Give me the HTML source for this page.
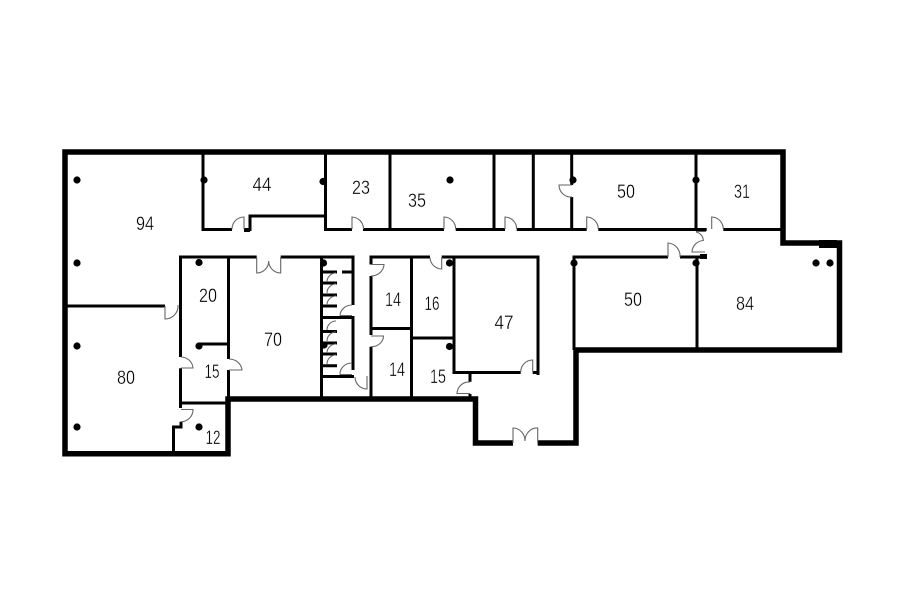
<!DOCTYPE html>
<html>
<head>
<meta charset="utf-8">
<style>
html,body{margin:0;padding:0;background:#fff;width:900px;height:604px;overflow:hidden}
svg{display:block;filter:blur(.3px)}
text{font-family:"Liberation Sans",sans-serif;font-size:19px;fill:#000;text-anchor:middle;stroke:#fff;stroke-width:.3px}
.o{fill:none;stroke:#000;stroke-width:5.5;stroke-linecap:butt;stroke-linejoin:miter}
.w{fill:none;stroke:#000;stroke-width:3;stroke-linecap:butt;stroke-linejoin:miter}
.d{fill:none;stroke:#666;stroke-width:1.1}
</style>
</head>
<body>
<svg width="900" height="604" viewBox="0 0 900 604" xmlns="http://www.w3.org/2000/svg">
<!-- outer walls -->
<path class="o" d="M513 443H475.500V399H228V453.700H65V152H783V243H839.500V350H576V443H537.700"/>
<path d="M819 240h18v8h-18z" fill="#000"/>
<!-- upper row inner walls -->
<path class="w" d="M203 152V229.500H232M244 229.500H250V216H326"/>
<path d="M244 228h6v4h-6z" fill="#000"/>
<path class="w" d="M352 229.500H325.500V152M363 229.500H444M455.700 229.500H505M516.700 229.500H586.700M598.300 229.500H706.700M711.700 229.500H711.700M723.300 229.500H781"/>
<path class="w" d="M390 152V229.500M494 152V229.500M533.300 152V229.500M571.700 152V185M571.700 197V229.500M696 152V229.500"/>
<!-- mid row -->
<path class="w" d="M256.700 257H180.500V357M280.700 257H353V305M353 316V370M180.500 368.300V408M181 421.700V427H173.500V453"/>
<path class="w" d="M67 306H165"/>
<path class="w" d="M228.500 257V359M228.500 370V398M199 344H228.500M180.500 403H228"/>
<path class="w" d="M321.500 257V398"/>
<path class="w" d="M321.500 317.500H354M321.500 376.500H354M321.500 272H337M342 272H352"/>
<path class="w" d="M321.500 283H337M321.500 295H337M321.500 306H337M321.500 331.500H337M321.500 343H337M321.500 354H337M321.500 365.700H337"/>
<path class="w" d="M371 398V346.700M371 335V276M430 257H371V264.500M371 328.500H411.500M411.500 257V398M411.500 338H454M454 257V372.500H520.700M532.700 372.500H538M441.700 257H538V375"/>
<path class="w" d="M470 373V381.700M470 394V398"/>
<path class="w" d="M668 257H574V350M680 257H706"/>
<path d="M700 254h7v5h-7z" fill="#000"/>
<path class="w" d="M697 257V350"/>
<!-- doors -->
<path class="d" d="M244 229V217A12 12 0 0 0 232 229"/>
<path class="d" d="M352 229V217A12 12 0 0 1 363.500 229"/>
<path class="d" d="M444 229V217A12 12 0 0 1 455.700 229"/>
<path class="d" d="M505 229V217A12 12 0 0 1 516.700 229"/>
<path class="d" d="M586.700 229V217A12 12 0 0 1 598.300 229"/>
<path class="d" d="M711.700 229V217A12 12 0 0 1 723.300 229"/>
<path class="d" d="M668 257V243A13 13 0 0 1 680 257"/>
<path class="d" d="M572 185H559A12 12 0 0 0 572 197"/>
<path class="d" d="M696 231.500H706M696 232A9 9 0 0 1 703.300 240.500A12 12 0 0 0 692 252H705"/>
<path class="d" d="M256.700 257V273A12 12 0 0 0 268.700 261A12 12 0 0 0 280.700 273V257"/>
<path class="d" d="M165 306V319A13 13 0 0 0 178 305"/>
<path class="d" d="M181 368H193A12 12 0 0 0 181 357"/>
<path class="d" d="M229 370H242A13 12 0 0 0 229 359"/>
<path class="d" d="M181 409.500H193A12 12 0 0 1 181 421.700"/>
<path class="d" d="M371 264.500H384A13 12 0 0 1 371 276"/>
<path class="d" d="M371 336H383.500A12 11 0 0 1 371 346.700"/>
<path class="d" d="M441.700 257V269A12 12 0 0 1 430 258"/>
<path class="d" d="M532.700 372V360A12 12 0 0 0 520.700 372"/>
<path class="d" d="M470 393.500H457A12 12 0 0 1 470 382"/>
<path class="d" d="M513 443V428A12 13 0 0 1 525 441A12 13 0 0 1 537.700 428V443"/>
<path class="d" d="M340 315.500H352M340 315.500A12 11 0 0 1 352 305"/>
<path class="d" d="M340 374.500H352M340 374.500A12 11 0 0 1 352 363"/>
<path class="d" d="M355 377A12 12 0 0 0 367 389V376"/>
<path class="d" d="M336 273A9 9 0 0 0 327 282M336 284A9 9 0 0 0 327 293M336 296A9 9 0 0 0 327 305M336 332A9 9 0 0 0 327 341M336 321A9 9 0 0 0 327 330M336 344A9 9 0 0 0 327 353M336 355A9 9 0 0 0 327 364"/>
<!-- columns -->
<g fill="#000">
<circle cx="77" cy="180" r="3.600"/><circle cx="77" cy="263" r="3.600"/>
<circle cx="204" cy="180" r="3.600"/><circle cx="199" cy="262.500" r="3.600"/>
<circle cx="77" cy="346" r="3.600"/><circle cx="77" cy="427" r="3.600"/>
<circle cx="199" cy="346" r="3.600"/><circle cx="199" cy="427" r="3.600"/>
<circle cx="323" cy="181.500" r="3.600"/><circle cx="323.500" cy="263" r="3.600"/>
<circle cx="324" cy="345" r="3.600"/>
<circle cx="450" cy="180" r="3.600"/><circle cx="449.500" cy="263" r="3.600"/>
<circle cx="449.500" cy="346.500" r="3.600"/>
<circle cx="573" cy="180" r="3.600"/><circle cx="696" cy="180" r="3.600"/>
<circle cx="574" cy="263" r="3.600"/><circle cx="696" cy="263" r="3.600"/>
<circle cx="816" cy="263" r="3.600"/><circle cx="830" cy="263" r="3.600"/>
</g>
<!-- labels -->
<text x="145" y="230" textLength="18" lengthAdjust="spacingAndGlyphs">94</text>
<text x="262" y="191" textLength="19" lengthAdjust="spacingAndGlyphs">44</text>
<text x="361" y="194" textLength="18" lengthAdjust="spacingAndGlyphs">23</text>
<text x="417" y="207" textLength="18" lengthAdjust="spacingAndGlyphs">35</text>
<text x="626" y="198" textLength="18" lengthAdjust="spacingAndGlyphs">50</text>
<text x="742" y="198" textLength="16" lengthAdjust="spacingAndGlyphs">31</text>
<text x="208" y="302" textLength="18" lengthAdjust="spacingAndGlyphs">20</text>
<text x="393" y="306" textLength="16" lengthAdjust="spacingAndGlyphs">14</text>
<text x="432" y="310" textLength="15" lengthAdjust="spacingAndGlyphs">16</text>
<text x="504" y="329" textLength="19" lengthAdjust="spacingAndGlyphs">47</text>
<text x="633" y="306" textLength="18" lengthAdjust="spacingAndGlyphs">50</text>
<text x="745" y="310" textLength="18" lengthAdjust="spacingAndGlyphs">84</text>
<text x="273" y="346" textLength="18" lengthAdjust="spacingAndGlyphs">70</text>
<text x="397" y="376" textLength="16" lengthAdjust="spacingAndGlyphs">14</text>
<text x="438" y="383" textLength="16" lengthAdjust="spacingAndGlyphs">15</text>
<text x="212" y="378" textLength="15" lengthAdjust="spacingAndGlyphs">15</text>
<text x="126" y="384" textLength="18" lengthAdjust="spacingAndGlyphs">80</text>
<text x="213" y="444" textLength="15" lengthAdjust="spacingAndGlyphs">12</text>
</svg>
</body>
</html>
